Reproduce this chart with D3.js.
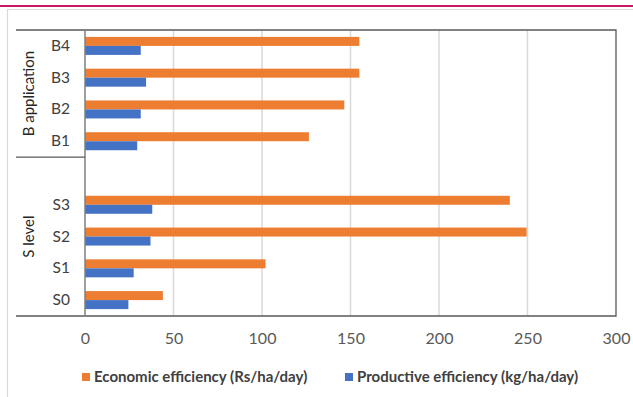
<!DOCTYPE html>
<html>
<head>
<meta charset="utf-8">
<script src="https://cdn.jsdelivr.net/npm/d3@7"></script>
<style>
	body { margin: 0; background: #fff; }
	svg { display: block; font-family: Lato, "Open Sans", sans-serif; }
</style>
</head>
<body>
<svg id="chart" width="633" height="397"></svg>
<script>
"use strict";

// Data (top to bottom as drawn)
var categories = ["B4", "B3", "B2", "B1", "", "S3", "S2", "S1", "S0"];
var economic = [155, 155, 146.5, 126.5, null, 240, 249.5, 102, 44];
var productive = [31.5, 34.5, 31.5, 29.5, null, 38, 37, 27.5, 24.5];
var groups = [
	{ name: "B application", from: 0, to: 3 },
	{ name: "S level", from: 4, to: 8 }
];
var xTicks = [0, 50, 100, 150, 200, 250, 300];
var seriesNames = ["Economic efficiency (Rs/ha/day)", "Productive efficiency (kg/ha/day)"];
var colors = ["#ED7D31", "#4472C4"];

var svg = d3.select("#chart");

// page decoration
svg.append("rect")
	.attr("x", 0).attr("y", 5)
	.attr("width", 633).attr("height", 2)
	.style("fill", "#C8186A");

svg.append("path")
	.attr("d", "M7.5,397 V9.5 H633")
	.style("fill", "none")
	.style("stroke", "#d9d9d9")
	.style("stroke-width", 1.2);

var plot = { left: 85, right: 616, top: 30, bottom: 316 };

var x = d3.scaleLinear().domain([0, 300]).range([plot.left, plot.right]);

var keys = categories.map(function(d, i) { return "c" + i; });
var y = d3.scaleBand().domain(keys).range([plot.top, plot.bottom]);

// gridlines
svg.append("g")
	.selectAll("line")
	.data(xTicks.slice(1, -1))
	.enter()
	.append("line")
	.attr("x1", function(d) { return x(d); })
	.attr("x2", function(d) { return x(d); })
	.attr("y1", plot.top)
	.attr("y2", plot.bottom)
	.style("stroke", "#d9d9d9")
	.style("stroke-width", 1.5);

// bars
var barH = 9;
var rows = categories.map(function(d, i) {
	return { key: keys[i], vals: [economic[i], productive[i]] };
}).filter(function(d) { return d.vals[0] !== null; });

var rowG = svg.append("g")
	.selectAll("g")
	.data(rows)
	.enter()
	.append("g")
	.attr("transform", function(d) {
		return "translate(0," + (y(d.key) + y.bandwidth() / 2 - barH) + ")";
	});

rowG.selectAll("rect")
	.data(function(d) { return d.vals; })
	.enter()
	.append("rect")
	.attr("x", x(0))
	.attr("y", function(d, i) { return i * barH; })
	.attr("width", function(d) { return x(d) - x(0); })
	.attr("height", barH)
	.style("fill", function(d, i) { return colors[i]; });

// frame
svg.append("path")
	.attr("d", "M16," + plot.top + " H" + plot.right + " V" + plot.bottom + " H16")
	.style("fill", "none")
	.style("stroke", "#595959")
	.style("stroke-width", 1.3);

svg.append("line")
	.attr("x1", plot.left).attr("x2", plot.left)
	.attr("y1", plot.top).attr("y2", plot.bottom)
	.style("stroke", "#7f7f7f")
	.style("stroke-width", 1.5);

// group separator
groups.slice(1).forEach(function(g) {
	var yy = y(keys[g.from]);
	svg.append("line")
		.attr("x1", 16).attr("x2", plot.left)
		.attr("y1", yy).attr("y2", yy)
		.style("stroke", "#595959")
		.style("stroke-width", 1.3);
});

// x axis labels
var xAxis = d3.axisBottom(x).tickValues(xTicks).tickSize(0).tickPadding(17);
var xg = svg.append("g")
	.attr("transform", "translate(0," + plot.bottom + ")")
	.call(xAxis);
xg.select(".domain").remove();
xg.selectAll("text")
	.style("font-size", "16px")
	.style("font-family", "Lato, sans-serif")
	.style("fill", "#595959");

// category labels
var yAxis = d3.axisLeft(y)
	.tickFormat(function(d, i) { return categories[i]; })
	.tickSize(0)
	.tickPadding(15);
var yg = svg.append("g")
	.attr("transform", "translate(" + plot.left + ",0)")
	.call(yAxis);
yg.select(".domain").remove();
yg.selectAll("text")
	.style("font-size", "15.5px")
	.style("font-family", "Lato, sans-serif")
	.style("fill", "#404040");

// group labels
svg.append("g")
	.selectAll("text")
	.data(groups)
	.enter()
	.append("text")
	.attr("transform", function(g) {
		var yc = (y(keys[g.from]) + y(keys[g.to]) + y.bandwidth()) / 2;
		return "translate(29," + yc + ") rotate(-90)";
	})
	.attr("text-anchor", "middle")
	.attr("dy", "0.35em")
	.style("font-size", "15px")
	.style("fill", "#262626")
	.text(function(g) { return g.name; });

// legend
var legendX = [82, 345];
var lg = svg.append("g")
	.selectAll("g")
	.data(seriesNames)
	.enter()
	.append("g")
	.attr("transform", function(d, i) { return "translate(" + legendX[i] + ",373)"; });

lg.append("rect")
	.attr("width", 8).attr("height", 8)
	.style("fill", function(d, i) { return colors[i]; });

lg.append("text")
	.attr("x", 12)
	.attr("y", 4)
	.attr("dy", "0.35em")
	.style("font-size", "15px")
	.style("font-weight", "bold")
	.style("fill", "#404040")
	.text(function(d) { return d; });
</script>
</body>
</html>
